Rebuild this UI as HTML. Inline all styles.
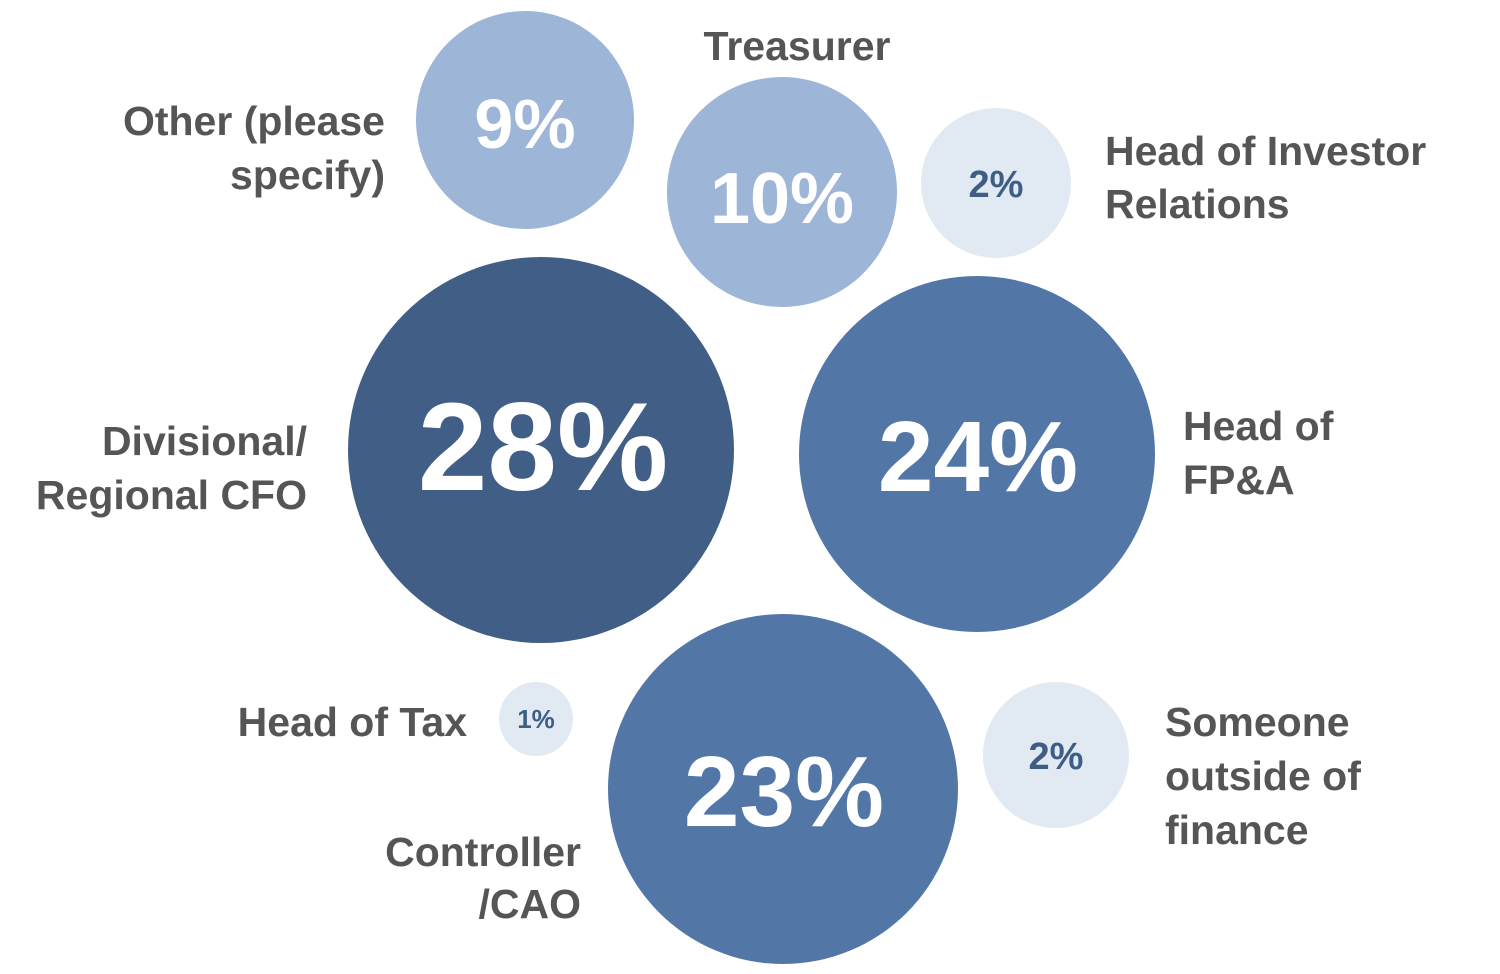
<!DOCTYPE html>
<html><head><meta charset="utf-8"><style>
html,body{margin:0;padding:0;background:#fff;}
svg{display:block;}
text{font-family:"Liberation Sans",sans-serif;font-weight:bold;}
.l{fill:#555;font-size:41px;}
.w{fill:#fff;}
.d{fill:#3f5e86;}
</style></head><body>
<svg width="1500" height="974" viewBox="0 0 1500 974">
<circle cx="525" cy="120" r="109" fill="#9db5d7"/>
<circle cx="782" cy="192" r="115" fill="#9db5d7"/>
<circle cx="996" cy="183" r="75" fill="#e1e9f3"/>
<circle cx="541" cy="450" r="193" fill="#415f86"/>
<circle cx="977" cy="454" r="178" fill="#5277a7"/>
<circle cx="783" cy="789" r="175" fill="#5277a7"/>
<circle cx="536" cy="719" r="37" fill="#e1e9f3"/>
<circle cx="1056" cy="755" r="73" fill="#e1e9f3"/>

<text class="w" x="525" y="148" text-anchor="middle" font-size="70">9%</text>
<text class="w" x="782" y="223" text-anchor="middle" font-size="72">10%</text>
<text class="d" x="996" y="197" text-anchor="middle" font-size="38">2%</text>
<text class="w" x="543" y="490" text-anchor="middle" font-size="125">28%</text>
<text class="w" x="978" y="491" text-anchor="middle" font-size="100">24%</text>
<text class="w" x="784" y="826" text-anchor="middle" font-size="100">23%</text>
<text class="d" x="536" y="728" text-anchor="middle" font-size="26">1%</text>
<text class="d" x="1056" y="769" text-anchor="middle" font-size="38">2%</text>

<text class="l" x="385" y="135" text-anchor="end">Other (please</text>
<text class="l" x="385" y="189" text-anchor="end">specify)</text>
<text class="l" x="797" y="60" text-anchor="middle">Treasurer</text>
<text class="l" x="1105" y="165">Head of Investor</text>
<text class="l" x="1105" y="218">Relations</text>
<text class="l" x="307" y="455" text-anchor="end">Divisional/</text>
<text class="l" x="307" y="509" text-anchor="end">Regional CFO</text>
<text class="l" x="1183" y="440">Head of</text>
<text class="l" x="1183" y="494">FP&amp;A</text>
<text class="l" x="467" y="736" text-anchor="end">Head of Tax</text>
<text class="l" x="581" y="866" text-anchor="end">Controller</text>
<text class="l" x="581" y="918" text-anchor="end">/CAO</text>
<text class="l" x="1165" y="736">Someone</text>
<text class="l" x="1165" y="790">outside of</text>
<text class="l" x="1165" y="844">finance</text>
</svg>
</body></html>
